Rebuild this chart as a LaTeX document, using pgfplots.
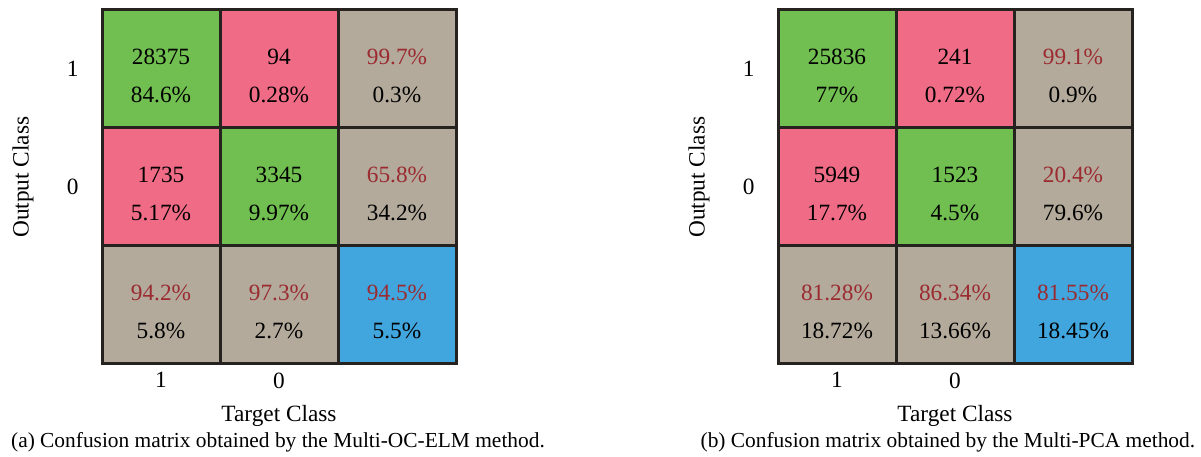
\documentclass[border=0pt]{standalone}
\usepackage{pgfplots}
\pgfplotsset{compat=1.18}
\usepackage{fontspec}
\setmainfont{Liberation Serif}

\definecolor{cgreen}{RGB}{112,191,80}
\definecolor{cpink}{RGB}{240,108,134}
\definecolor{cgray}{RGB}{179,170,156}
\definecolor{cblue}{RGB}{65,165,222}
\definecolor{cred}{RGB}{155,43,48}
\definecolor{cborder}{RGB}{38,34,32}

\newcommand{\cmfont}{\fontsize{23.3}{28}\selectfont}
\newcommand{\capfont}{\fontsize{21.4}{26}\selectfont}

% two-line cell text: value (top) and percentage (bottom)
\newcommand{\celltext}[5]{%
  \node[anchor=base, inner sep=0pt, font=\cmfont, text=#5] at (axis cs:#1,#2) [yshift=4.5pt] {#3};
  \node[anchor=base, inner sep=0pt, font=\cmfont, text=black] at (axis cs:#1,#2) [yshift=-33.5pt] {#4};
}

\pgfplotsset{
  cmaxis/.style={
    scale only axis, width=354pt, height=354pt,
    xmin=0, xmax=3, ymin=0, ymax=3, clip=false,
    axis line style={draw=none}, major tick length=0pt,
    xtick={0.5,1.5}, xticklabels={1,0},
    ytick={0.5,1.5,2.5}, yticklabels={,0,1},
    tick label style={font=\cmfont},
    /pgf/number format/assume math mode=true,
    xticklabel style={yshift=-5pt},
    yticklabel style={xshift=-20pt},
    xlabel={Target Class}, ylabel={Output Class},
    label style={font=\cmfont},
    xlabel style={at={(axis description cs:0.5,-0.1638)}, anchor=base},
    ylabel style={at={(axis description cs:-0.223,0.528)}, anchor=center},
    every axis plot/.append style={draw=cborder, line width=3pt, line join=miter},
  }
}

\begin{document}
\begin{tikzpicture}
\path[use as bounding box] (0,0) rectangle (1201pt,457pt);

% (a) Multi-OC-ELM
\begin{axis}[cmaxis, at={(102pt,93pt)}, anchor=south west]
  \addplot[fill=cgreen] coordinates {(0,2) (1,2) (1,3) (0,3)} -- cycle;
  \addplot[fill=cpink]  coordinates {(1,2) (2,2) (2,3) (1,3)} -- cycle;
  \addplot[fill=cgray]  coordinates {(2,2) (3,2) (3,3) (2,3)} -- cycle;
  \addplot[fill=cpink]  coordinates {(0,1) (1,1) (1,2) (0,2)} -- cycle;
  \addplot[fill=cgreen] coordinates {(1,1) (2,1) (2,2) (1,2)} -- cycle;
  \addplot[fill=cgray]  coordinates {(2,1) (3,1) (3,2) (2,2)} -- cycle;
  \addplot[fill=cgray]  coordinates {(0,0) (1,0) (1,1) (0,1)} -- cycle;
  \addplot[fill=cgray]  coordinates {(1,0) (2,0) (2,1) (1,1)} -- cycle;
  \addplot[fill=cblue]  coordinates {(2,0) (3,0) (3,1) (2,1)} -- cycle;
  \celltext{0.5}{2.5}{28375}{84.6\%}{black}
  \celltext{1.5}{2.5}{94}{0.28\%}{black}
  \celltext{2.5}{2.5}{99.7\%}{0.3\%}{cred}
  \celltext{0.5}{1.5}{1735}{5.17\%}{black}
  \celltext{1.5}{1.5}{3345}{9.97\%}{black}
  \celltext{2.5}{1.5}{65.8\%}{34.2\%}{cred}
  \celltext{0.5}{0.5}{94.2\%}{5.8\%}{cred}
  \celltext{1.5}{0.5}{97.3\%}{2.7\%}{cred}
  \celltext{2.5}{0.5}{94.5\%}{5.5\%}{cred}
  \node[anchor=base, inner sep=0pt, font=\capfont] at (axis description cs:0.4972,-0.2345)
    {(a) Confusion matrix obtained by the Multi-OC-ELM method.};
\end{axis}

% (b) Multi-PCA
\begin{axis}[cmaxis, at={(778pt,93pt)}, anchor=south west]
  \addplot[fill=cgreen] coordinates {(0,2) (1,2) (1,3) (0,3)} -- cycle;
  \addplot[fill=cpink]  coordinates {(1,2) (2,2) (2,3) (1,3)} -- cycle;
  \addplot[fill=cgray]  coordinates {(2,2) (3,2) (3,3) (2,3)} -- cycle;
  \addplot[fill=cpink]  coordinates {(0,1) (1,1) (1,2) (0,2)} -- cycle;
  \addplot[fill=cgreen] coordinates {(1,1) (2,1) (2,2) (1,2)} -- cycle;
  \addplot[fill=cgray]  coordinates {(2,1) (3,1) (3,2) (2,2)} -- cycle;
  \addplot[fill=cgray]  coordinates {(0,0) (1,0) (1,1) (0,1)} -- cycle;
  \addplot[fill=cgray]  coordinates {(1,0) (2,0) (2,1) (1,1)} -- cycle;
  \addplot[fill=cblue]  coordinates {(2,0) (3,0) (3,1) (2,1)} -- cycle;
  \celltext{0.5}{2.5}{25836}{77\%}{black}
  \celltext{1.5}{2.5}{241}{0.72\%}{black}
  \celltext{2.5}{2.5}{99.1\%}{0.9\%}{cred}
  \celltext{0.5}{1.5}{5949}{17.7\%}{black}
  \celltext{1.5}{1.5}{1523}{4.5\%}{black}
  \celltext{2.5}{1.5}{20.4\%}{79.6\%}{cred}
  \celltext{0.5}{0.5}{81.28\%}{18.72\%}{cred}
  \celltext{1.5}{0.5}{86.34\%}{13.66\%}{cred}
  \celltext{2.5}{0.5}{81.55\%}{18.45\%}{cred}
  \node[anchor=base, inner sep=0pt, font=\capfont] at (axis description cs:0.48,-0.2345)
    {(b) Confusion matrix obtained by the Multi-PCA method.};
\end{axis}
\end{tikzpicture}
\end{document}
